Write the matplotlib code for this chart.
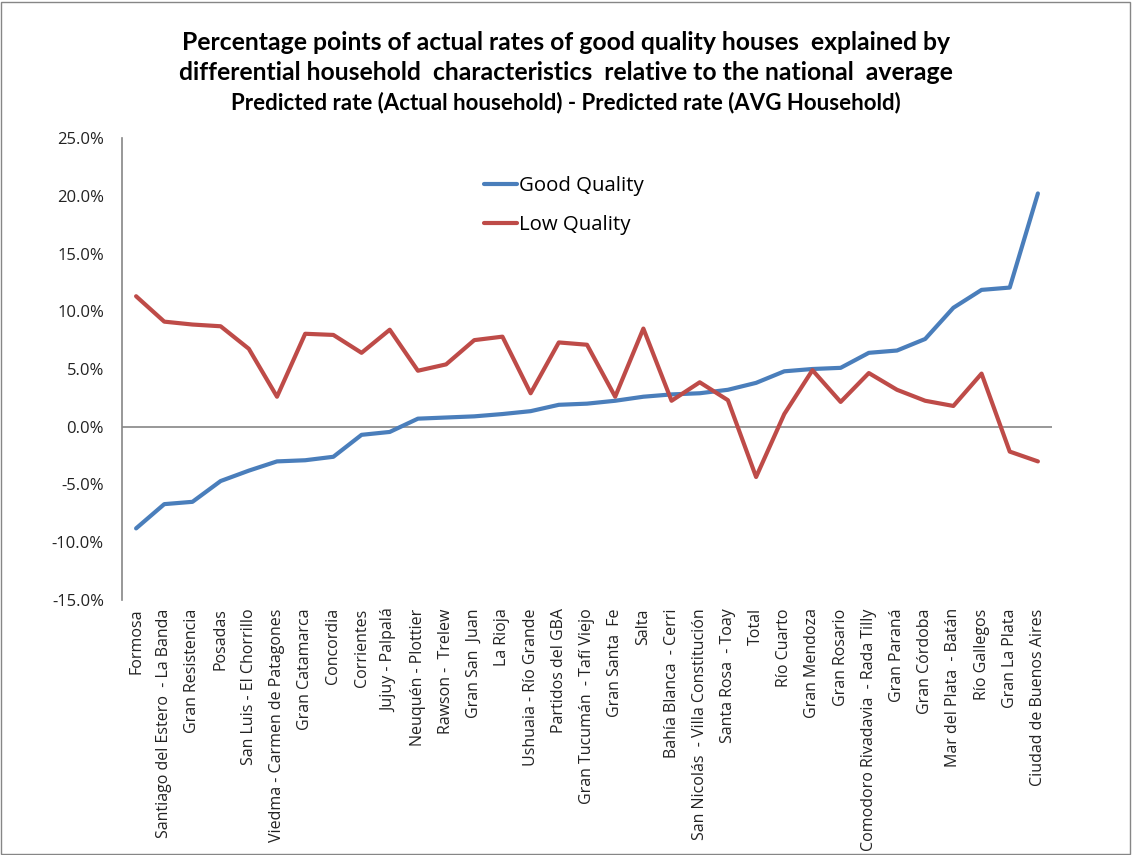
import matplotlib
matplotlib.use("Agg")
import matplotlib.pyplot as plt
from matplotlib.ticker import FuncFormatter, MultipleLocator
from matplotlib.patches import Rectangle

categories = [
    "Formosa", "Santiago del Estero  - La Banda", "Gran Resistencia", "Posadas",
    "San Luis - El Chorrillo", "Viedma - Carmen de Patagones", "Gran Catamarca",
    "Concordia", "Corrientes", "Jujuy - Palpalá", "Neuquén - Plottier",
    "Rawson -  Trelew", "Gran San  Juan", "La Rioja", "Ushuaia - Río Grande",
    "Partidos del GBA", "Gran Tucumán  - Tafí Viejo", "Gran Santa  Fe", "Salta",
    "Bahía Blanca  - Cerri", "San Nicolás  - Villa Constitución", "Santa Rosa  - Toay",
    "Total", "Río Cuarto", "Gran Mendoza", "Gran Rosario",
    "Comodoro Rivadavia  - Rada Tilly", "Gran Paraná", "Gran Córdoba",
    "Mar del Plata  - Batán", "Río Gallegos", "Gran La Plata", "Ciudad de Buenos Aires",
]

good_quality = [
    -8.8, -6.7, -6.5, -4.7, -3.8, -3.0, -2.9, -2.6, -0.7, -0.45, 0.7, 0.8, 0.9,
    1.1, 1.35, 1.9, 2.0, 2.25, 2.6, 2.8, 2.9, 3.2, 3.8, 4.8, 5.0, 5.1, 6.4,
    6.6, 7.6, 10.3, 11.85, 12.05, 20.2,
]

low_quality = [
    11.3, 9.1, 8.85, 8.7, 6.75, 2.6, 8.05, 7.95, 6.4, 8.4, 4.85, 5.4, 7.5,
    7.8, 2.9, 7.3, 7.1, 2.6, 8.5, 2.25, 3.85, 2.3, -4.35, 1.1, 4.9, 2.15,
    4.65, 3.2, 2.25, 1.8, 4.6, -2.15, -3.0,
]

W, H = 1132, 855
fig = plt.figure(figsize=(W / 100, H / 100), dpi=100)
ax = fig.add_axes([122 / W, 1 - 600 / H, (1052 - 122) / W, (600 - 138) / H])

x = list(range(len(categories)))
ax.plot(x, good_quality, color="#4A7EBB", lw=3, label="Good Quality", solid_capstyle="round")
ax.plot(x, low_quality, color="#BE4B48", lw=3, label="Low Quality", solid_capstyle="round")

ax.set_xlim(-0.5, len(categories) - 0.5)
ax.set_ylim(-15, 25)
ax.yaxis.set_major_locator(MultipleLocator(5))
ax.yaxis.set_major_formatter(FuncFormatter(lambda v, p: f"{v:.1f}%"))
ax.axhline(0, color="#868686", lw=1.2, zorder=1)

for s in ["top", "right", "bottom"]:
    ax.spines[s].set_visible(False)
ax.spines["left"].set_color("#868686")
ax.spines["left"].set_linewidth(1.2)

ax.tick_params(axis="y", length=0, pad=13, labelsize=12, labelcolor="#222222")
ax.tick_params(axis="x", length=0, pad=6, labelsize=11.5, labelcolor="#222222")
for lab in ax.get_yticklabels():
    lab.set_fontfamily("Open Sans")
ax.set_xticks(x)
ax.set_xticklabels(categories, rotation=90, fontfamily="Open Sans", va="top", ha="center")

leg = ax.legend(loc="upper left", bbox_to_anchor=((466 - 122) / (1052 - 122), (600 - 158) / (600 - 138)),
                frameon=False, handlelength=1.6, handletextpad=0.1,
                labelspacing=0.9, prop={"family": "Open Sans", "size": 14.7})

fig.text(0.5, 1 - 42 / H, "Percentage points of actual rates of good quality houses  explained by",
         ha="center", va="center", fontsize=17.8, fontweight="bold", fontfamily="Lato")
fig.text(0.5, 1 - 73 / H, "differential household  characteristics  relative to the national  average",
         ha="center", va="center", fontsize=17.8, fontweight="bold", fontfamily="Lato")
fig.text(0.5, 1 - 103 / H, "Predicted rate (Actual household) - Predicted rate (AVG Household)",
         ha="center", va="center", fontsize=16, fontweight="bold", fontfamily="Lato")

fig.patches.append(Rectangle((1 / W, 1 / H), 1 - 3 / W, 1 - 3 / H, transform=fig.transFigure,
                             fill=False, edgecolor="#868686", lw=1))

fig.savefig("out.png", dpi=100)
